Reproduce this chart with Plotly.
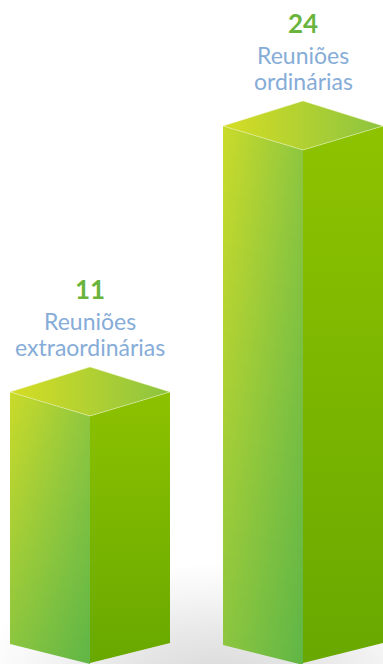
import numpy as np
import plotly.graph_objects as go

# ---- data ----
categories = ["Reuniões<br>extraordinárias", "Reuniões<br>ordinárias"]
values = [11, 24]
value_labels = ["11", "24"]

# ---- styling ----
W, H = 383, 664
PX_PER_UNIT = 20.46           # vertical scale (pixels per value unit)
U = 1.0 / PX_PER_UNIT         # value units per pixel
X_PX_PER_UNIT = 213.0         # horizontal scale (pixels per category step)
HW = 80.0 / X_PX_PER_UNIT     # half-width of a prism in category units
BASE = -1.07                  # front-bottom edge of prisms
XR = [-90.0 / X_PX_PER_UNIT, (W - 90.0) / X_PX_PER_UNIT]
YR = [-(H - 641.0) / PX_PER_UNIT, 641.0 / PX_PER_UNIT]

NUM_COLOR = "#6ab43e"
LBL_COLOR = "#86acd8"


def hex2rgb(h):
    h = h.lstrip("#")
    return np.array([int(h[i:i + 2], 16) for i in (0, 2, 4)], dtype=float)


def mix(a, b, t):
    c = hex2rgb(a) * (1 - t) + hex2rgb(b) * t
    return "rgb(%d,%d,%d)" % tuple(np.round(c))


fig = go.Figure()

# soft floor shadow
th = np.linspace(0, 2 * np.pi, 120)
sx = 0.6 + (250.0 / X_PX_PER_UNIT) * np.cos(th)
sy = BASE - 20 * U + 120 * U * np.sin(th)
fig.add_trace(go.Scatter(
    x=sx, y=sy, mode="lines", fill="toself", line=dict(width=0),
    fillgradient=dict(type="radial",
                      colorscale=[[0, "#d8d8d8"], [0.45, "#e9e9e9"], [0.8, "#f8f8f8"], [1, "#ffffff"]]),
    hoverinfo="skip", showlegend=False))

N_STRIPS = 40
for i, v in enumerate(values):
    top_c = v + 24 * U
    apex = v + 49 * U
    base_c = BASE + 20 * U

    # left face: strips with horizontal gradient varying top->bottom
    for k in range(N_STRIPS):
        t0, t1 = k / N_STRIPS, (k + 1) / N_STRIPS
        yl0 = top_c + (base_c - top_c) * t0
        yl1 = top_c + (base_c - top_c) * (t1 + 0.004)
        yf0 = v + (BASE - v) * t0
        yf1 = v + (BASE - v) * (t1 + 0.004)
        tm = (t0 + t1) / 2
        cl = mix("#cbdb2a", "#8dc63f", tm)
        cr = mix("#8dc640", "#5fb646", tm)
        fig.add_trace(go.Scatter(
            x=[i - HW, i, i, i - HW, i - HW], y=[yl0, yf0, yf1, yl1, yl0],
            mode="lines", fill="toself", line=dict(width=0),
            fillgradient=dict(type="horizontal", start=i - HW, stop=i,
                              colorscale=[[0, cl], [1, cr]]),
            hoverinfo="skip", showlegend=False))

    # right face: vertical gradient
    fig.add_trace(go.Scatter(
        x=[i, i + HW, i + HW, i, i], y=[v, top_c, base_c, BASE, v],
        mode="lines", fill="toself", line=dict(width=0),
        fillgradient=dict(type="vertical", start=BASE, stop=apex,
                          colorscale=[[0, "#68a800"], [1, "#90c400"]]),
        hoverinfo="skip", showlegend=False))

    # top face
    fig.add_trace(go.Scatter(
        x=[i - HW, i, i + HW, i, i - HW], y=[top_c, apex, top_c, v, top_c],
        mode="lines", fill="toself", line=dict(width=0.6, color="rgba(240,245,200,0.8)"),
        fillgradient=dict(type="horizontal", start=i - HW, stop=i + HW,
                          colorscale=[[0, "#d6dd24"], [1, "#8cc440"]]),
        hoverinfo="skip", showlegend=False))

    # labels (one annotation per line for tight line spacing)
    lines = categories[i].split("<br>")
    for j, line in enumerate(reversed(lines)):
        fig.add_annotation(x=i, y=apex + (20 + 25.5 * j) * U, text=line, showarrow=False,
                           xanchor="center", yanchor="middle", borderpad=0,
                           font=dict(family="Lato", size=23, color=LBL_COLOR))
    fig.add_annotation(x=i, y=apex + 78 * U, text="<b>" + value_labels[i] + "</b>",
                       showarrow=False, xanchor="center", yanchor="middle", borderpad=0,
                       font=dict(family="Lato", size=26, color=NUM_COLOR))

fig.update_layout(
    width=W, height=H, margin=dict(l=0, r=0, t=0, b=0),
    paper_bgcolor="white", plot_bgcolor="white",
    xaxis=dict(range=XR, visible=False, fixedrange=True),
    yaxis=dict(range=YR, visible=False, fixedrange=True),
    showlegend=False,
)
fig.write_html("out.html", config={"displayModeBar": False})
